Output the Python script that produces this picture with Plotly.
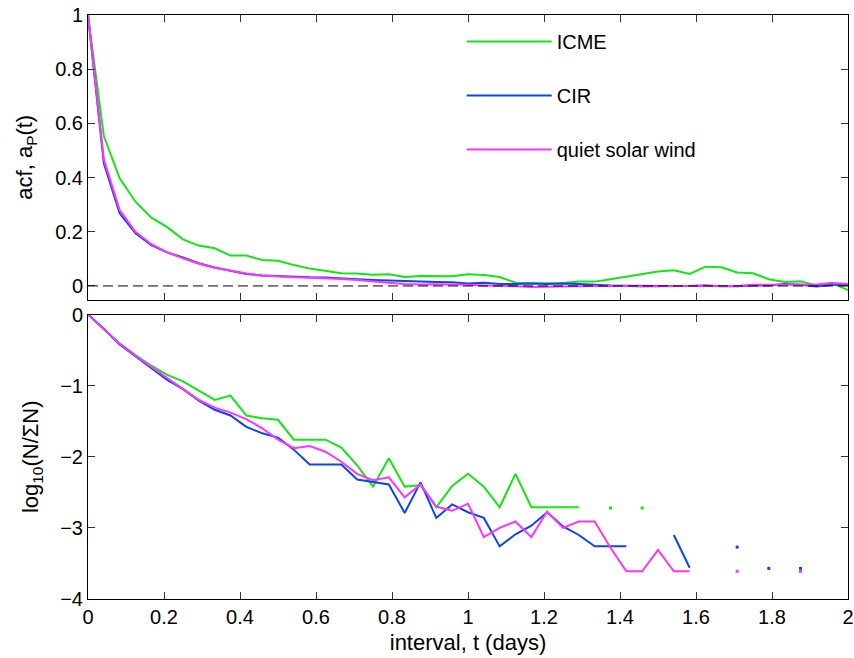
import numpy as np
import plotly.graph_objects as go
from plotly.subplots import make_subplots

nan = float("nan")

# time lags in days (hourly steps, 0..2 days)
lag_hours = list(range(49))

# ---- top panel: autocorrelation a_P(t)
acf_icme = [1.0, 0.553, 0.397, 0.311, 0.252, 0.217, 0.172, 0.149, 0.139, 0.112,
            0.112, 0.096, 0.093, 0.077, 0.064, 0.055, 0.047, 0.046, 0.041, 0.043,
            0.033, 0.037, 0.037, 0.036, 0.043, 0.040, 0.033, 0.012, 0.010, 0.010,
            0.011, 0.016, 0.016, 0.025, 0.034, 0.044, 0.053, 0.058, 0.044, 0.071,
            0.069, 0.050, 0.047, 0.025, 0.015, 0.017, 0.002, 0.011, -0.015]
acf_cir = [1.0, 0.453, 0.268, 0.194, 0.151, 0.124, 0.105, 0.084, 0.068, 0.057,
           0.044, 0.039, 0.036, 0.033, 0.032, 0.031, 0.027, 0.025, 0.022, 0.020,
           0.018, 0.015, 0.015, 0.014, 0.009, 0.012, 0.007, 0.007, 0.009, 0.007,
           0.009, 0.007, 0.004, 0.002, 0.001, 0.0, 0.0, 0.0, 0.0, 0.002,
           -0.001, -0.001, 0.002, 0.002, 0.007, 0.004, -0.002, 0.004, 0.004]
acf_quiet = [1.0, 0.467, 0.280, 0.200, 0.154, 0.124, 0.102, 0.082, 0.067, 0.056,
             0.046, 0.039, 0.035, 0.032, 0.030, 0.029, 0.026, 0.022, 0.018, 0.012,
             0.007, 0.005, 0.006, 0.006, 0.004, 0.002, 0.001, -0.001, -0.004, -0.004,
             -0.002, -0.001, 0.001, 0.001, 0.0, -0.002, -0.001, 0.0, -0.001, 0.001,
             0.0, 0.0, 0.004, 0.005, 0.006, 0.005, 0.005, 0.011, 0.007]

# ---- bottom panel: log10(N / sum N)
log_icme = [0.0, -0.20, -0.41, -0.57, -0.72, -0.85, -0.94, -1.07, -1.20, -1.14,
            -1.42, -1.46, -1.48, -1.76, -1.76, -1.76, -1.87, -2.12, -2.42, -2.02,
            -2.42, -2.40, -2.71, -2.41, -2.24, -2.42, -2.71, -2.24, -2.71, -2.71,
            -2.71, -2.71, nan, -2.72, nan, -2.72, nan, nan, nan, nan,
            nan, nan, nan, nan, nan, nan, nan, nan, nan]
log_cir = [0.0, -0.20, -0.42, -0.59, -0.76, -0.92, -1.05, -1.21, -1.34, -1.42,
           -1.58, -1.67, -1.73, -1.90, -2.11, -2.11, -2.11, -2.32, -2.35, -2.39,
           -2.79, -2.36, -2.86, -2.67, -2.78, -2.86, -3.26, -3.09, -2.97, -2.78,
           -2.98, -3.10, -3.26, -3.26, -3.26, nan, nan, -3.10, -3.56, nan,
           nan, -3.27, nan, -3.57, nan, -3.57, nan, nan, nan]
log_quiet = [0.0, -0.20, -0.41, -0.58, -0.74, -0.90, -1.05, -1.20, -1.31, -1.38,
             -1.47, -1.60, -1.76, -1.88, -1.85, -1.93, -2.07, -2.24, -2.33, -2.29,
             -2.57, -2.39, -2.70, -2.76, -2.66, -3.13, -3.00, -2.91, -3.13, -2.77,
             -3.00, -2.91, -2.91, -3.28, -3.61, -3.61, -3.31, -3.61, -3.61, nan,
             nan, -3.61, nan, nan, nan, -3.61, nan, nan, nan]

series_names = ["ICME", "CIR", "quiet solar wind"]
series_colors = ["#14e614", "#0a44f5", "#ff33ff"]

x_ticks = [0, 0.2, 0.4, 0.6, 0.8, 1, 1.2, 1.4, 1.6, 1.8, 2]
x_ticklabels = ["0", "0.2", "0.4", "0.6", "0.8", "1", "1.2", "1.4", "1.6", "1.8", "2"]
top_ticks = [0, 0.2, 0.4, 0.6, 0.8, 1]
top_ticklabels = ["0", "0.2", "0.4", "0.6", "0.8", "1"]
bot_ticks = [0, -1, -2, -3, -4]
bot_ticklabels = ["0", "\u22121", "\u22122", "\u22123", "\u22124"]

t_days = np.array(lag_hours) / 24.0

H = 658 - 15 - 59
fig = make_subplots(rows=2, cols=1, shared_xaxes=True, vertical_spacing=15 / H)

FONT = "Liberation Sans, Arial, sans-serif"

for name, col, top, bot in zip(series_names, series_colors,
                               [acf_icme, acf_cir, acf_quiet],
                               [log_icme, log_cir, log_quiet]):
    fig.add_trace(go.Scatter(x=t_days, y=top, mode="lines", name=name,
                             legendgroup=name,
                             line=dict(color=col, width=2)), row=1, col=1)
    fig.add_trace(go.Scatter(x=t_days, y=bot, mode="lines", name=name,
                             legendgroup=name, showlegend=False,
                             connectgaps=False,
                             line=dict(color=col, width=2)), row=2, col=1)
    # isolated points (no finite neighbours) are drawn as small dots
    arr = np.array(bot, dtype=float)
    iso = []
    for i, v in enumerate(arr):
        if np.isnan(v):
            continue
        left = arr[i - 1] if i > 0 else nan
        right = arr[i + 1] if i < len(arr) - 1 else nan
        if np.isnan(left) and np.isnan(right):
            iso.append(i)
    if iso:
        fig.add_trace(go.Scatter(x=t_days[iso], y=arr[iso], mode="markers",
                                 showlegend=False, legendgroup=name,
                                 marker=dict(color=col, size=3, symbol="square",
                                             line=dict(width=0))),
                      row=2, col=1)

fig.add_hline(y=0, line=dict(color="black", width=1, dash="10px,5px"), row=1, col=1)

axis_common = dict(showline=True, linecolor="black", linewidth=1, mirror="ticks",
                   ticks="inside", ticklen=7, tickcolor="#333333", tickwidth=1,
                   showgrid=False, zeroline=False, automargin=False,
                   tickfont=dict(family=FONT, size=20, color="black"))

fig.update_xaxes(range=[0, 2], tickvals=x_ticks, ticktext=x_ticklabels, **axis_common)
fig.update_xaxes(showticklabels=False, row=1, col=1)
fig.update_xaxes(title=dict(text="interval, t (days)", font=dict(family=FONT, size=22, color="black"),
                            standoff=7), row=2, col=1)
fig.update_yaxes(**axis_common)
fig.update_yaxes(range=[-0.05, 1], tickvals=top_ticks, ticktext=top_ticklabels,
                 title=dict(text="acf, a<sub>P</sub>(t)", font=dict(family=FONT, size=22, color="black"),
                            standoff=16), row=1, col=1)
fig.update_yaxes(range=[-4, 0], tickvals=bot_ticks, ticktext=bot_ticklabels,
                 title=dict(text="log<sub>10</sub>(N/\u03a3N)", font=dict(family=FONT, size=22, color="black"),
                            standoff=15), row=2, col=1)

fig.update_layout(
    width=854, height=658,
    margin=dict(l=88, r=6, t=15, b=59, autoexpand=False),
    paper_bgcolor="white", plot_bgcolor="white",
    font=dict(family=FONT, color="black"),
    showlegend=True,
    legend=dict(x=0.4917, xanchor="left", y=0.988, yanchor="top",
                font=dict(family=FONT, size=20, color="black"),
                itemwidth=85,
                bgcolor="rgba(0,0,0,0)", borderwidth=0, tracegroupgap=25),
)

fig.write_html("out.html", config={"displayModeBar": False},
               post_script="document.body.style.margin='0';document.body.style.overflow='hidden';")
